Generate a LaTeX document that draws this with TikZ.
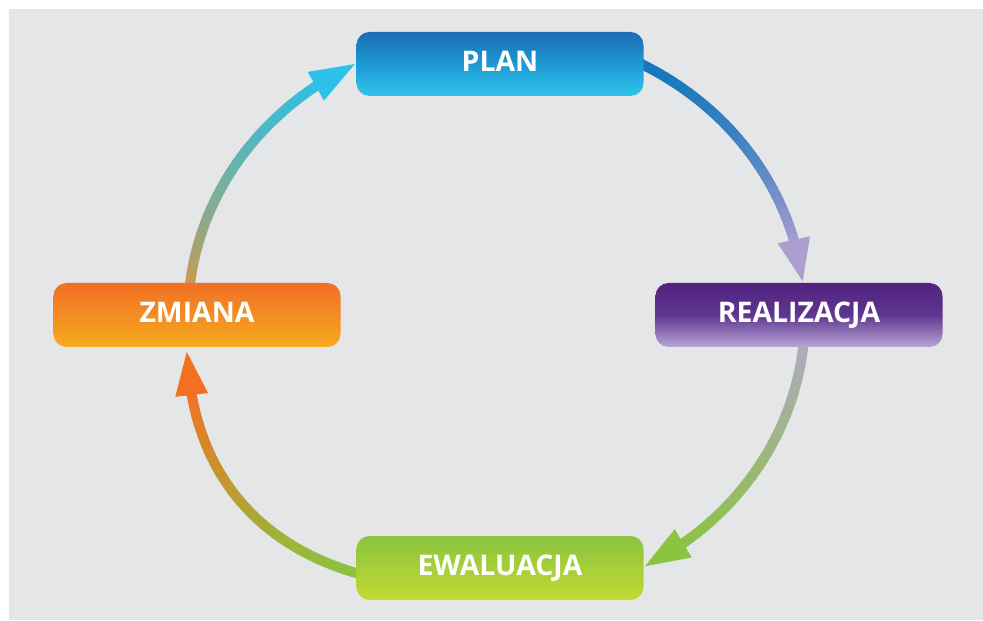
\documentclass[tikz,border=0pt]{standalone}
\usepackage{fontspec}
\setmainfont{Open Sans}
\usetikzlibrary{calc}

\definecolor{bggray}{HTML}{E5E6E8}
\definecolor{planA}{HTML}{1A6BB3}
\definecolor{planM}{HTML}{1D9AD3}
\definecolor{planB}{HTML}{2FC4EC}
\definecolor{realA}{HTML}{51217F}
\definecolor{realM}{HTML}{5E3690}
\definecolor{realB}{HTML}{B9A6D6}
\definecolor{evalA}{HTML}{8AC440}
\definecolor{evalB}{HTML}{C3DA30}
\definecolor{zmA}{HTML}{F26F25}
\definecolor{zmB}{HTML}{F5AA1F}
\definecolor{arBlue}{HTML}{1577BD}
\definecolor{arLav}{HTML}{AC9FCF}
\definecolor{arLavB}{HTML}{B3A6D2}
\definecolor{arGreen}{HTML}{8BC43F}
\definecolor{arOrange}{HTML}{F37021}
\definecolor{arOrangeB}{HTML}{EF922B}
\definecolor{arCyan}{HTML}{2DC0E8}

\tikzset{
  stage/.style={rounded corners=6.5pt, minimum width=143.5pt, minimum height=32pt,
    inner sep=0pt, text depth=3pt, text=white, font=\fontsize{14.2}{17}\selectfont\bfseries},
  shaft/.style={line width=5pt, line cap=round}
}

% #1 start, #2 head base, #3 tip (angles), #4 a, #5 b, #6 exponent,
% #7 start colour, #8 end colour, #9 colour curve
\newcommand{\cyclearrow}[9]{
  \pgfmathsetmacro\tEnd{#2+0.25*(#3-#2)}
  \foreach \i in {1,...,40}{
    \pgfmathsetmacro\tA{#1+(\i-1)/40*(\tEnd-#1)}
    \pgfmathsetmacro\tB{#1+\i/40*(\tEnd-#1)}
    \pgfmathtruncatemacro\m{100*((\i-0.5)/40)^#9}
    \draw[shaft, draw=#8!\m!#7] ({ex(\tA,#4,#6)},{ey(\tA,#5,#6)}) -- ({ex(\tB,#4,#6)},{ey(\tB,#5,#6)});
  }
  \coordinate (tip) at ({ex(#3,#4,#6)},{ey(#3,#5,#6)});
  \coordinate (base) at ({ex(#2,#4,#6)},{ey(#2,#5,#6)});
  \fill[#8] (tip) -- ($(base)!8.25pt!90:(tip)$) -- ($(base)!8.25pt!-90:(tip)$) -- cycle;
}

\begin{document}
\begin{tikzpicture}[x=0.5pt, y=0.5pt,
    declare function={ex(\t,\a,\e)=\a*cos(\t)*abs(cos(\t))^(\e-1);
                      ey(\t,\b,\e)=\b*sin(\t)*abs(sin(\t))^(\e-1);}]
  % Background
  \useasboundingbox (-498,-304) rectangle (485,316);
  \fill[white] (-498,-304) rectangle (485,316);
  \fill[bggray] (-489,-304) rectangle (485,307);

  % Arrows round the cycle
  \cyclearrow{66}{15.5}{7}{307}{285}{1}{arBlue}{arLav}{2}
  \cyclearrow{-3}{-52.9}{-61.4}{307}{285}{1}{arLavB}{arGreen}{0.8}
  \cyclearrow{252}{192.25}{184.56}{312}{273}{0.8}{arGreen}{arOrange}{1.5}
  \cyclearrow{176}{126}{117.5}{310}{284}{1}{arOrangeB}{arCyan}{0.6}

  % Stages
  \node[stage, top color=planA, bottom color=planB, middle color=planM] (plan) at (2,252) {PLAN};
  \node[stage, top color=realA, bottom color=realB, middle color=realM] (realizacja) at (301,1) {REALIZACJA};
  \node[stage, top color=evalA, bottom color=evalB] (ewaluacja) at (2,-252) {EWALUACJA};
  \node[stage, top color=zmA, bottom color=zmB] (zmiana) at (-301,1) {ZMIANA};
\end{tikzpicture}
\end{document}
